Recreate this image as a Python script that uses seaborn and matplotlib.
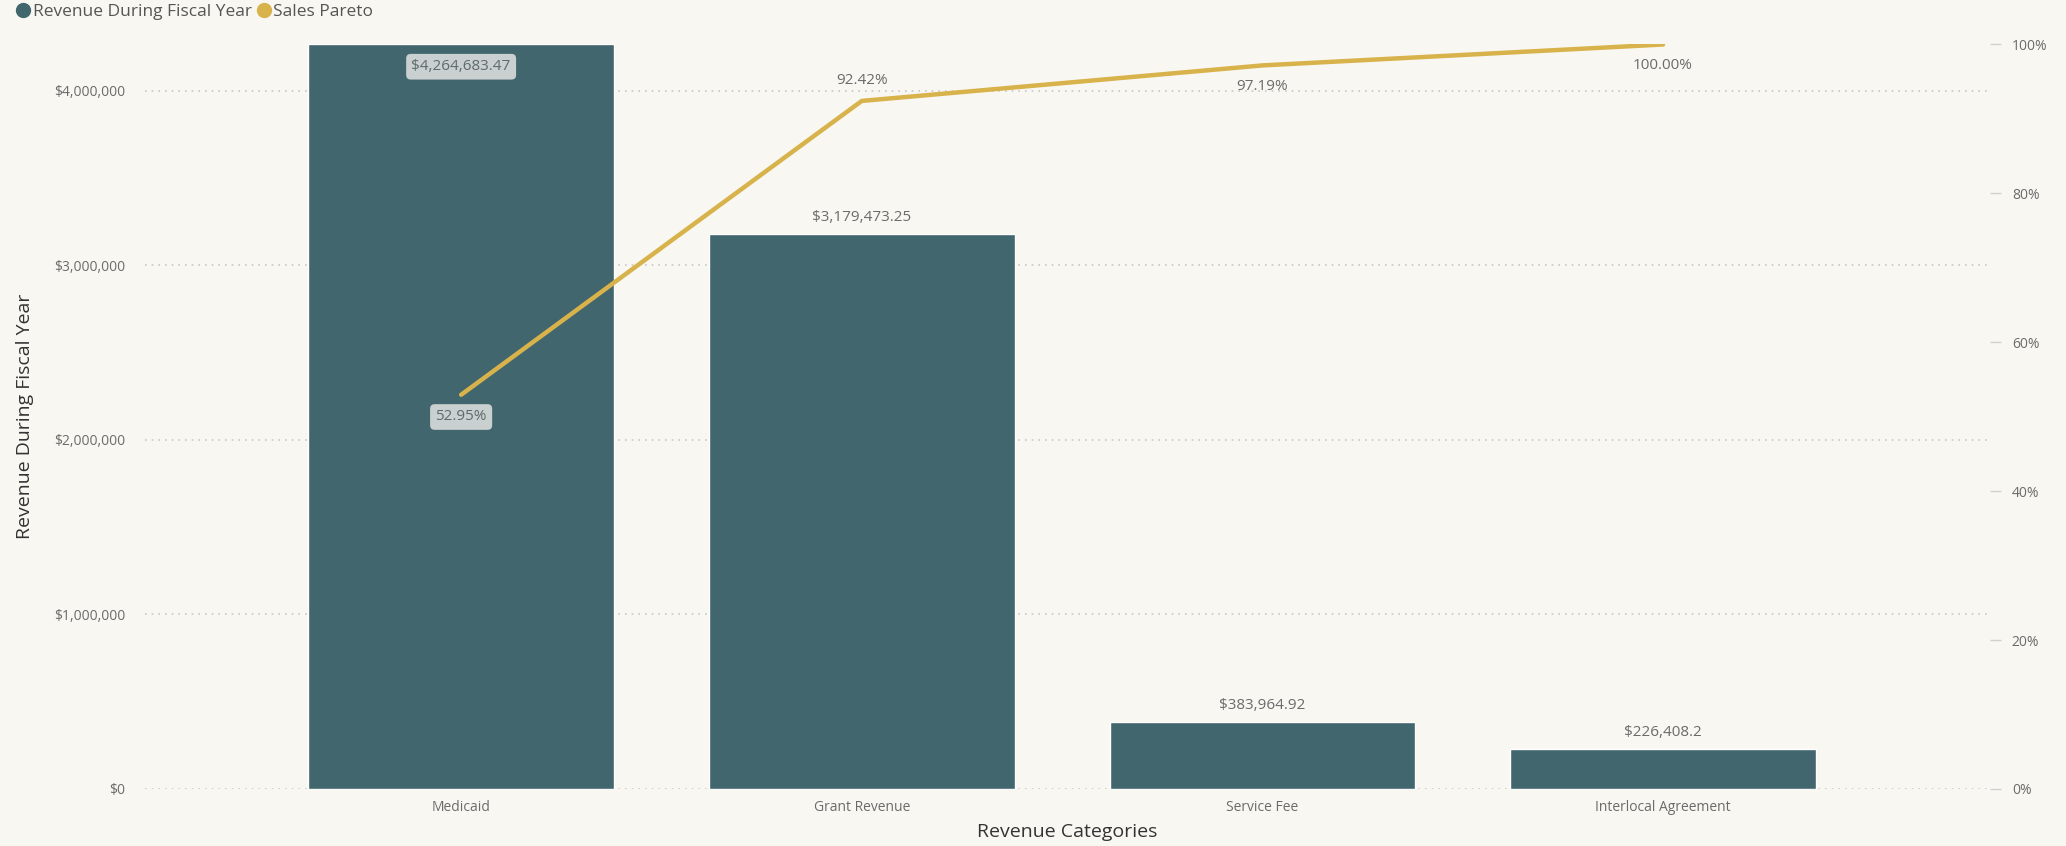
import numpy as np
import pandas as pd
import matplotlib
matplotlib.use("Agg")
import matplotlib.pyplot as plt
import seaborn as sns
from matplotlib.ticker import FuncFormatter
from matplotlib.lines import Line2D

categories = ["Medicaid", "Grant Revenue", "Service Fee", "Interlocal Agreement"]
revenue = [4264683.47, 3179473.25, 383964.92, 226408.2]
revenue_labels = ["$4,264,683.47", "$3,179,473.25", "$383,964.92", "$226,408.2"]
pareto = [0.5295, 0.9242, 0.9719, 1.0]
pareto_labels = ["52.95%", "92.42%", "97.19%", "100.00%"]

bar_color = "#41666E"
line_color = "#D8B24A"
bg = "#F8F7F2"
text_color = "#6B6B6B"

sns.set_theme(style="white")
plt.rcParams["font.family"] = ["Open Sans", "DejaVu Sans"]

df = pd.DataFrame({"category": categories, "revenue": revenue})

fig = plt.figure(figsize=(20.66, 8.46), dpi=100)
fig.patch.set_facecolor(bg)
ax = fig.add_axes([0.070, 0.0674, 0.893, 0.880])
ax.set_facecolor(bg)

sns.barplot(data=df, x="category", y="revenue", color=bar_color, width=0.763,
            saturation=1, ax=ax, zorder=2)

ax.set_xlim(-0.79, 3.815)
ax.set_ylim(0, max(revenue))
ax.set_yticks([0, 1e6, 2e6, 3e6, 4e6])
ax.yaxis.set_major_formatter(FuncFormatter(lambda v, p: f"${v:,.0f}"))
ax.grid(axis="y", linestyle=(0, (1, 3)), color="#C8C8C8", linewidth=1.2, zorder=0)
for s in ax.spines.values():
    s.set_visible(False)
ax.tick_params(axis="both", length=0, labelsize=10, labelcolor=text_color, pad=8)
ax.tick_params(axis="y", pad=14)
ax.set_xlabel("Revenue Categories", fontsize=14, color="#333333", labelpad=6)
ax.set_ylabel("Revenue During Fiscal Year", fontsize=14, color="#333333", labelpad=14)

# bar value labels
for i, (v, lab) in enumerate(zip(revenue, revenue_labels)):
    if i == 0:
        ax.annotate(lab, (i, v), xytext=(0, -16), textcoords="offset points",
                    ha="center", va="center", fontsize=11, color="#5E6A6C",
                    bbox=dict(boxstyle="round,pad=0.35,rounding_size=0.3",
                              fc="#C9D0CF", ec="none"), zorder=5)
    else:
        ax.annotate(lab, (i, v), xytext=(0, 12), textcoords="offset points",
                    ha="center", va="center", fontsize=11, color=text_color, zorder=5)

# pareto line on secondary axis
ax2 = ax.twinx()
sns.lineplot(x=np.arange(len(pareto)), y=pareto, color=line_color, linewidth=3.2,
             ax=ax2, zorder=4)
ax2.set_ylim(0, 1)
ax2.set_yticks([0, 0.2, 0.4, 0.6, 0.8, 1.0])
ax2.yaxis.set_major_formatter(FuncFormatter(lambda v, p: f"{v * 100:.0f}%"))
ax2.set_ylabel("")
for s in ax2.spines.values():
    s.set_visible(False)
ax2.tick_params(axis="y", length=8, width=1, color="#D0D0D0", labelsize=10,
                labelcolor=text_color, pad=8)

offsets = [-16, 15, -15, -15]
for i, (p, lab) in enumerate(zip(pareto, pareto_labels)):
    if i == 0:
        ax2.annotate(lab, (i, p), xytext=(0, offsets[i]), textcoords="offset points",
                     ha="center", va="center", fontsize=11, color="#5E6A6C",
                     bbox=dict(boxstyle="round,pad=0.35,rounding_size=0.3",
                               fc="#C9D0CF", ec="none"), zorder=6)
    else:
        ax2.annotate(lab, (i, p), xytext=(0, offsets[i]), textcoords="offset points",
                     ha="center", va="center", fontsize=11, color=text_color, zorder=6)

# legend at top left
handles = [
    Line2D([], [], marker="o", linestyle="none", markersize=10, color=bar_color),
    Line2D([], [], marker="o", linestyle="none", markersize=10, color=line_color),
]
fig.legend(handles, ["Revenue During Fiscal Year", "Sales Pareto"],
           loc="upper left", bbox_to_anchor=(0.002, 1.01), ncol=2, frameon=False,
           fontsize=12.5, handlelength=0.8, handletextpad=0.15, columnspacing=0.3,
           labelcolor="#555555", borderaxespad=0.3)

fig.savefig("out.png", dpi=100, facecolor=bg)
